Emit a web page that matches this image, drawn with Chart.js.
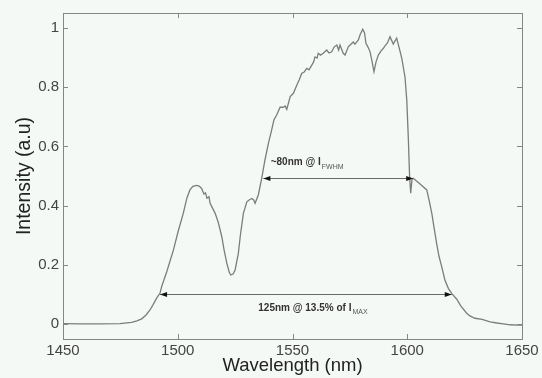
<!DOCTYPE html>
<html>
<head>
<meta charset="utf-8">
<script src="https://cdn.jsdelivr.net/npm/chart.js@4/dist/chart.umd.min.js"></script>
<style>
  html, body { margin: 0; padding: 0; background: #f5f9f5; }
  #wrap { width: 542px; height: 378px; }
</style>
</head>
<body>
<div id="wrap"><canvas id="c" width="542" height="378"></canvas></div>
<script>
// ---- data ----
const wavelength = [
  1450, 1457.4, 1466.1, 1474.8, 1479.9, 1482.2, 1484.3, 1486.2, 1487.9, 1489.2,
  1490.8, 1492.3, 1493.0, 1495.2, 1498.1, 1500.1, 1502.4, 1504.0, 1505.3, 1506.6,
  1508.3, 1509.3, 1510.4, 1511.4, 1512.1, 1512.7, 1513.6, 1514.1, 1516.3, 1517.6,
  1519.2, 1520.2, 1521.4, 1522.4, 1523.1, 1524.1, 1525.0, 1526.4, 1527.3, 1528.6,
  1530.1, 1531.1, 1532.3, 1533.1, 1533.7, 1535.1, 1536.6, 1538.0, 1539.5, 1540.9,
  1541.9, 1543.1, 1544.6, 1546.0, 1546.8, 1547.5, 1549.0, 1550.4, 1551.9, 1552.9,
  1554.0, 1555.1, 1556.2, 1557.2, 1558.4, 1559.2, 1559.8, 1560.7, 1561.2, 1562.2,
  1563.4, 1564.9, 1565.9, 1567.1, 1568.1, 1569.3, 1570.1, 1570.7, 1572.1, 1572.9,
  1574.3, 1575.1, 1576.5, 1577.2, 1578.7, 1579.4, 1580.6, 1581.4, 1582.0, 1582.9,
  1583.8, 1584.7, 1585.5, 1586.4, 1587.4, 1588.6, 1589.6, 1590.3, 1591.3, 1592.5,
  1593.9, 1595.4, 1596.5, 1597.6, 1599.0, 1599.8, 1600.5, 1601.0, 1601.5, 1602.1,
  1602.6, 1605.6, 1608.5, 1609.5, 1610.7, 1611.7, 1612.8, 1613.8, 1615.0, 1616.4,
  1617.9, 1619.5, 1621.5, 1623.4, 1625.9, 1627.3, 1629.5, 1632.6, 1636.1, 1639.1,
  1641.9, 1644.8, 1648.4, 1650
];
const intensity = [
  0.002, 0.001, 0.001, 0.002, 0.006, 0.011, 0.018, 0.031, 0.048, 0.065,
  0.088, 0.105, 0.127, 0.177, 0.250, 0.311, 0.374, 0.426, 0.453, 0.465,
  0.468, 0.466, 0.458, 0.439, 0.443, 0.425, 0.430, 0.408, 0.374, 0.345,
  0.295, 0.250, 0.205, 0.176, 0.166, 0.169, 0.183, 0.239, 0.301, 0.374,
  0.413, 0.419, 0.424, 0.419, 0.408, 0.436, 0.493, 0.554, 0.610, 0.655,
  0.689, 0.706, 0.732, 0.732, 0.736, 0.725, 0.768, 0.779, 0.807, 0.824,
  0.846, 0.851, 0.863, 0.858, 0.874, 0.885, 0.902, 0.898, 0.914, 0.908,
  0.914, 0.925, 0.915, 0.919, 0.935, 0.942, 0.925, 0.942, 0.914, 0.908,
  0.936, 0.942, 0.952, 0.945, 0.959, 0.976, 0.995, 0.983, 0.948, 0.935,
  0.919, 0.885, 0.852, 0.885, 0.908, 0.922, 0.931, 0.939, 0.948, 0.970,
  0.945, 0.965, 0.932, 0.898, 0.835, 0.756, 0.621, 0.503, 0.442, 0.490,
  0.492, 0.473, 0.453, 0.419, 0.374, 0.325, 0.273, 0.230, 0.194, 0.149,
  0.121, 0.102, 0.085, 0.061, 0.037, 0.028, 0.020, 0.016, 0.008, 0.004,
  0.001, -0.002, -0.003, -0.003
];
const xTicks = [1450, 1500, 1550, 1600, 1650];
const xTickLabels = ['1450', '1500', '1550', '1600', '1650'];
const yTicks = [0, 0.2, 0.4, 0.6, 0.8, 1];
const yTickLabels = ['0', '0.2', '0.4', '0.6', '0.8', '1'];
const xRange = [1450, 1650];
const yRange = [-0.05, 1.05];

// width markers: [from wavelength, to wavelength, intensity level]
const fwhmArrow = [1537.3, 1602.6, 0.494];
const baseArrow = [1492.3, 1619.4, 0.102];
// labels: [main text, subscript, start wavelength, baseline intensity]
const fwhmLabel = ['~80nm @ I', 'FWHM', 1540.5, 0.537];
const baseLabel = ['125nm @ 13.5% of I', 'MAX', 1535.1, 0.045];

const points = wavelength.map((w, i) => ({ x: w, y: intensity[i] }));

const FONT = "'Liberation Sans', Arial, Helvetica, sans-serif";

const framePlugin = {
  id: 'frame',
  beforeDraw(chart) {
    const ctx = chart.ctx;
    ctx.save();
    ctx.fillStyle = '#f5f9f5';
    ctx.fillRect(0, 0, chart.width, chart.height);
    ctx.restore();
  },
  afterDraw(chart) {
    const { ctx, chartArea: a, scales: { x, y } } = chart;
    ctx.save();
    ctx.strokeStyle = '#858585';
    ctx.lineWidth = 1;
    ctx.strokeRect(Math.round(a.left) + 0.5, Math.round(a.top) + 0.5,
                   Math.round(a.right - a.left), Math.round(a.bottom - a.top));
    const tl = 5;
    ctx.beginPath();
    x.ticks.forEach(t => {
      const px = Math.round(x.getPixelForValue(t.value)) + 0.5;
      ctx.moveTo(px, a.bottom); ctx.lineTo(px, a.bottom - tl);
      ctx.moveTo(px, a.top); ctx.lineTo(px, a.top + tl);
    });
    y.ticks.forEach(t => {
      const py = Math.round(y.getPixelForValue(t.value)) + 0.5;
      ctx.moveTo(a.left, py); ctx.lineTo(a.left + tl, py);
      ctx.moveTo(a.right, py); ctx.lineTo(a.right - tl, py);
    });
    ctx.stroke();
    ctx.restore();
  },
  afterDatasetsDraw(chart) {
    const { ctx, scales: { x, y } } = chart;
    function head(px, py, dir) {
      ctx.beginPath();
      ctx.moveTo(px, py);
      ctx.lineTo(px - dir * 7, py - 2.5);
      ctx.lineTo(px - dir * 7, py + 2.5);
      ctx.closePath();
      ctx.fill();
    }
    function arrow(a) {
      const x1 = x.getPixelForValue(a[0]);
      const x2 = x.getPixelForValue(a[1]);
      const py = Math.round(y.getPixelForValue(a[2])) + 0.5;
      ctx.save();
      ctx.strokeStyle = '#6a6a6a';
      ctx.lineWidth = 1;
      ctx.beginPath();
      ctx.moveTo(x1, py); ctx.lineTo(x2, py);
      ctx.stroke();
      ctx.fillStyle = '#111';
      head(x1, py, -1);
      head(x2, py, 1);
      ctx.restore();
    }
    function label(l) {
      const px = x.getPixelForValue(l[2]);
      const py = y.getPixelForValue(l[3]);
      ctx.save();
      ctx.fillStyle = '#333';
      ctx.textBaseline = 'alphabetic';
      ctx.textAlign = 'left';
      ctx.font = 'bold 10px ' + FONT;
      ctx.fillText(l[0], px, py);
      const w = ctx.measureText(l[0]).width;
      ctx.fillStyle = '#555';
      ctx.font = '7px ' + FONT;
      ctx.fillText(l[1], px + w + 1, py + 3.5);
      ctx.restore();
    }
    arrow(fwhmArrow);
    arrow(baseArrow);
    label(fwhmLabel);
    label(baseLabel);
  }
};

new Chart(document.getElementById('c'), {
  type: 'line',
  data: {
    datasets: [{
      data: points,
      borderColor: '#7c7c7c',
      borderWidth: 1.3,
      pointRadius: 0,
      tension: 0,
      fill: false
    }]
  },
  options: {
    responsive: false,
    animation: false,
    layout: { padding: { top: 13, right: 20, left: 0, bottom: 0 } },
    plugins: { legend: { display: false }, tooltip: { enabled: false } },
    scales: {
      x: {
        type: 'linear',
        min: xRange[0], max: xRange[1],
        afterFit(s) { s.height = 39; },
        afterBuildTicks(s) { s.ticks = xTicks.map(v => ({ value: v })); },
        grid: { display: false, drawTicks: false },
        border: { display: false },
        ticks: {
          padding: 3,
          color: '#444',
          font: { family: FONT, size: 15 },
          maxRotation: 0,
          callback: (v) => xTickLabels[xTicks.indexOf(v)]
        },
        title: {
          display: true,
          text: 'Wavelength (nm)',
          color: '#222',
          font: { family: FONT, size: 18.5 },
          padding: { top: 0, bottom: 1 }
        }
      },
      y: {
        type: 'linear',
        min: yRange[0], max: yRange[1],
        afterFit(s) { s.width = 63; },
        afterBuildTicks(s) { s.ticks = yTicks.map(v => ({ value: v })); },
        grid: { display: false, drawTicks: false },
        border: { display: false },
        ticks: {
          padding: 4,
          color: '#444',
          font: { family: FONT, size: 15 },
          callback: (v) => yTickLabels[yTicks.indexOf(v)]
        },
        title: {
          display: true,
          text: 'Intensity (a.u)',
          color: '#222',
          font: { family: FONT, size: 19.5 },
          padding: { top: 13, bottom: 0 }
        }
      }
    }
  },
  plugins: [framePlugin]
});
</script>
</body>
</html>
